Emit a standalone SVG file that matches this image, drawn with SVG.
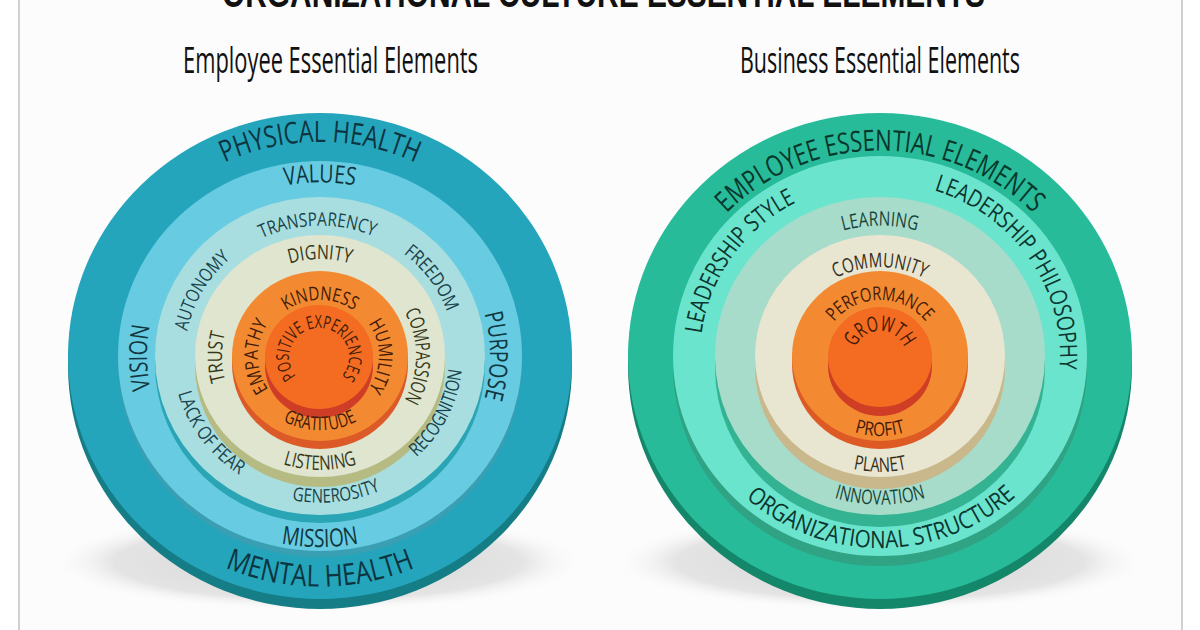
<svg xmlns="http://www.w3.org/2000/svg" width="1200" height="630" viewBox="0 0 1200 630">
<style>
.t{font-family:"Open Sans","Liberation Sans",sans-serif;}
.title{font-family:"Liberation Sans",sans-serif;font-weight:bold;fill:#111;}
.sub{font-family:"Open Sans","Liberation Sans",sans-serif;fill:#111;}
.c1{fill:#0c3540;} .c2{fill:#10363f;} .c3{fill:#1a434b;} .c4{fill:#36381a;} .c5{fill:#421a06;}
.g1{fill:#08372b;} .g2{fill:#0b362e;} .g3{fill:#1a453b;} .g4{fill:#352e22;}
</style>
<defs>
<radialGradient id="shadow" cx="0.5" cy="0.5" r="0.5">
<stop offset="0" stop-color="#d4d4d4"/>
<stop offset="0.75" stop-color="#e4e4e4"/>
<stop offset="1" stop-color="#ffffff" stop-opacity="0"/>
</radialGradient>
<path id="pPhys" d="M320,570.2 A222,214.2 0 1 1 320,141.8 A222,214.2 0 1 1 320,570.2"/>
<path id="pMent" d="M320,125.4 A239,230.6 0 1 0 320,586.6 A239,230.6 0 1 0 320,125.4"/>
<path id="pVal" d="M320,529.7 A180,173.7 0 1 1 320,182.3 A180,173.7 0 1 1 320,529.7"/>
<path id="pMis" d="M320,164.9 A198,191.1 0 1 0 320,547.1 A198,191.1 0 1 0 320,164.9"/>
<path id="pVis" d="M320,523 A173,167 0 1 1 320,189 A173,167 0 1 1 320,523"/>
<path id="pPur" d="M320,520 A170,164 0 1 1 320,192 A170,164 0 1 1 320,520"/>
<path id="pL3" d="M320,486.3 A135,130.3 0 1 1 320,225.7 A135,130.3 0 1 1 320,486.3"/>
<path id="pRec" d="M320,218.5 A142.5,137.5 0 1 0 320,493.5 A142.5,137.5 0 1 0 320,218.5"/>
<path id="pGen" d="M320,209.3 A152,146.7 0 1 0 320,502.7 A152,146.7 0 1 0 320,209.3"/>
<path id="pLack" d="M320,214.1 A147,141.9 0 1 0 320,497.9 A147,141.9 0 1 0 320,214.1"/>
<path id="pDig" d="M320,453 A100.5,97 0 1 1 320,259 A100.5,97 0 1 1 320,453"/>
<path id="pTru" d="M320,450.6 A98,94.6 0 1 1 320,261.4 A98,94.6 0 1 1 320,450.6"/>
<path id="pCom" d="M320,448.6 A96,92.6 0 1 1 320,263.4 A96,92.6 0 1 1 320,448.6"/>
<path id="pLis" d="M320,242.1 A118,113.9 0 1 0 320,469.9 A118,113.9 0 1 0 320,242.1"/>
<path id="pKin" d="M320,412 A58,56 0 1 1 320,300 A58,56 0 1 1 320,412"/>
<path id="pEmp" d="M320,415.8 A62,59.8 0 1 1 320,296.2 A62,59.8 0 1 1 320,415.8"/>
<path id="pHum" d="M320,412.9 A59,56.9 0 1 1 320,299.1 A59,56.9 0 1 1 320,412.9"/>
<path id="pGra" d="M320,281.7 A77,74.3 0 1 0 320,430.3 A77,74.3 0 1 0 320,281.7"/>
<path id="pPos" d="M319,386 A30,29 0 1 1 319,328 A30,29 0 1 1 319,386"/>
<path id="pEmpl" d="M880,561.5 A213,205.5 0 1 1 880,150.5 A213,205.5 0 1 1 880,561.5"/>
<path id="pLead" d="M880,529.7 A180,173.7 0 1 1 880,182.3 A180,173.7 0 1 1 880,529.7"/>
<path id="pOrg" d="M880,164 A199,192 0 1 0 880,548 A199,192 0 1 0 880,164"/>
<path id="pLea" d="M880,486.3 A135,130.3 0 1 1 880,225.7 A135,130.3 0 1 1 880,486.3"/>
<path id="pInn" d="M880,207.4 A154,148.6 0 1 0 880,504.6 A154,148.6 0 1 0 880,207.4"/>
<path id="pCmu" d="M880,444.8 A92,88.8 0 1 1 880,267.2 A92,88.8 0 1 1 880,444.8"/>
<path id="pPla" d="M880,240.2 A120,115.8 0 1 0 880,471.8 A120,115.8 0 1 0 880,240.2"/>
<path id="pPer" d="M880,412 A58,56 0 1 1 880,300 A58,56 0 1 1 880,412"/>
<path id="pPro" d="M880,275.9 A83,80.1 0 1 0 880,436.1 A83,80.1 0 1 0 880,275.9"/>
<path id="pGro" d="M880,381.1 A26,25.1 0 1 1 880,330.9 A26,25.1 0 1 1 880,381.1"/>
</defs>

<rect x="0" y="0" width="1200" height="630" fill="#ffffff"/>
<rect x="19" y="0" width="1163" height="630" fill="#fcfcfc"/>
<line x1="19" y1="0" x2="19" y2="630" stroke="#d0d0d0" stroke-width="2"/>
<line x1="1182" y1="0" x2="1182" y2="630" stroke="#d0d0d0" stroke-width="2"/>

<g id="title">
<text class="title" x="222" y="7" font-size="40" textLength="763" lengthAdjust="spacingAndGlyphs">ORGANIZATIONAL CULTURE ESSENTIAL ELEMENTS</text>
<text class="sub" x="183" y="73" font-size="37" textLength="295" lengthAdjust="spacingAndGlyphs">Employee Essential Elements</text>
<text class="sub" x="740" y="73" font-size="37" textLength="280" lengthAdjust="spacingAndGlyphs">Business Essential Elements</text>
</g>

<g id="employee-diagram">
<ellipse cx="318" cy="562" rx="272" ry="50" fill="url(#shadow)"/>
<g id="l-physical">
<ellipse cx="320" cy="366" rx="252" ry="243" fill="#157d86"/>
<ellipse cx="320" cy="356" rx="252" ry="243" fill="#25a5bc"/>
</g>
<g id="l-values">
<ellipse cx="320" cy="362" rx="202" ry="195" fill="#3a9fb2"/>
<ellipse cx="320" cy="356" rx="202" ry="195" fill="#67cbe1"/>
</g>
<g id="l-transparency">
<ellipse cx="320" cy="364" rx="165" ry="159" fill="#2aa5b5"/>
<ellipse cx="320" cy="356" rx="165" ry="159" fill="#a9dee0"/>
</g>
<g id="l-dignity">
<ellipse cx="320" cy="366" rx="125" ry="121" fill="#b6bb84"/>
<ellipse cx="320" cy="356" rx="125" ry="121" fill="#dfe5cf"/>
</g>
<g id="l-kindness">
<ellipse cx="320" cy="364" rx="88" ry="85" fill="#dc5a27"/>
<ellipse cx="320" cy="356" rx="88" ry="85" fill="#f38a31"/>
</g>
<g id="l-positive">
<ellipse cx="319" cy="366" rx="54" ry="52" fill="#cf3d26"/>
<ellipse cx="319" cy="357" rx="54" ry="52" fill="#f46c22"/>
</g>
<g id="l-labels" class="t">
<text class="c1" font-size="30"><textPath href="#pPhys" startOffset="50%" text-anchor="middle" textLength="197" lengthAdjust="spacingAndGlyphs">PHYSICAL HEALTH</textPath></text>
<text class="c1" font-size="30"><textPath href="#pMent" startOffset="50%" text-anchor="middle" textLength="195" lengthAdjust="spacingAndGlyphs">MENTAL HEALTH</textPath></text>
<text class="c2" font-size="25"><textPath href="#pVal" startOffset="50%" text-anchor="middle" textLength="70" lengthAdjust="spacingAndGlyphs">VALUES</textPath></text>
<text class="c2" font-size="25"><textPath href="#pMis" startOffset="50%" text-anchor="middle" textLength="78" lengthAdjust="spacingAndGlyphs">MISSION</textPath></text>
<text class="c2" font-size="25"><textPath href="#pVis" startOffset="24.86%" text-anchor="middle" textLength="64" lengthAdjust="spacingAndGlyphs">VISION</textPath></text>
<text class="c2" font-size="25"><textPath href="#pPur" startOffset="75%" text-anchor="middle" textLength="86" lengthAdjust="spacingAndGlyphs">PURPOSE</textPath></text>
<text class="c3" font-size="19"><textPath href="#pL3" startOffset="49.7%" text-anchor="middle" textLength="115" lengthAdjust="spacingAndGlyphs">TRANSPARENCY</textPath></text>
<text class="c3" font-size="19"><textPath href="#pL3" startOffset="33.14%" text-anchor="middle" textLength="86" lengthAdjust="spacingAndGlyphs">AUTONOMY</textPath></text>
<text class="c3" font-size="19"><textPath href="#pL3" startOffset="65.17%" text-anchor="middle" textLength="74" lengthAdjust="spacingAndGlyphs">FREEDOM</textPath></text>
<text class="c3" font-size="19"><textPath href="#pRec" startOffset="67.67%" text-anchor="middle" textLength="100" lengthAdjust="spacingAndGlyphs">RECOGNITION</textPath></text>
<text class="c3" font-size="19"><textPath href="#pGen" startOffset="51.8%" text-anchor="middle" textLength="90" lengthAdjust="spacingAndGlyphs">GENEROSITY</textPath></text>
<text class="c3" font-size="19"><textPath href="#pLack" startOffset="34.9%" text-anchor="middle" textLength="104" lengthAdjust="spacingAndGlyphs">LACK OF FEAR</textPath></text>
<text class="c4" font-size="20"><textPath href="#pDig" startOffset="50%" text-anchor="middle" textLength="62" lengthAdjust="spacingAndGlyphs">DIGNITY</textPath></text>
<text class="c4" font-size="20"><textPath href="#pTru" startOffset="24.86%" text-anchor="middle" textLength="49" lengthAdjust="spacingAndGlyphs">TRUST</textPath></text>
<text class="c4" font-size="20"><textPath href="#pCom" startOffset="75%" text-anchor="middle" textLength="92" lengthAdjust="spacingAndGlyphs">COMPASSION</textPath></text>
<text class="c4" font-size="20"><textPath href="#pLis" startOffset="50%" text-anchor="middle" textLength="75" lengthAdjust="spacingAndGlyphs">LISTENING</textPath></text>
<text class="c5" font-size="19"><textPath href="#pKin" startOffset="50%" text-anchor="middle" textLength="72" lengthAdjust="spacingAndGlyphs">KINDNESS</textPath></text>
<text class="c5" font-size="19"><textPath href="#pEmp" startOffset="24.86%" text-anchor="middle" textLength="70" lengthAdjust="spacingAndGlyphs">EMPATHY</textPath></text>
<text class="c5" font-size="19"><textPath href="#pHum" startOffset="75%" text-anchor="middle" textLength="70" lengthAdjust="spacingAndGlyphs">HUMILITY</textPath></text>
<text class="c5" font-size="19"><textPath href="#pGra" startOffset="50%" text-anchor="middle" textLength="77" lengthAdjust="spacingAndGlyphs">GRATITUDE</textPath></text>
<text class="c5" font-size="18"><textPath href="#pPos" startOffset="50%" text-anchor="middle" textLength="134" lengthAdjust="spacingAndGlyphs">POSITIVE EXPERIENCES</textPath></text>
</g>
</g>

<g id="business-diagram">
<ellipse cx="880" cy="562" rx="272" ry="50" fill="url(#shadow)"/>
<g id="r-employee">
<ellipse cx="880" cy="366" rx="252" ry="243" fill="#14866a"/>
<ellipse cx="880" cy="356" rx="252" ry="243" fill="#27bb9a"/>
</g>
<g id="r-leadership">
<ellipse cx="880" cy="366" rx="207" ry="200" fill="#2fa383"/>
<ellipse cx="880" cy="356" rx="207" ry="200" fill="#6be4ce"/>
</g>
<g id="r-learning">
<ellipse cx="880" cy="368" rx="165" ry="159" fill="#33b392"/>
<ellipse cx="880" cy="356" rx="165" ry="159" fill="#a7dccb"/>
</g>
<g id="r-community">
<ellipse cx="880" cy="368" rx="125" ry="121" fill="#c8b88b"/>
<ellipse cx="880" cy="356" rx="125" ry="121" fill="#e8e5d0"/>
</g>
<g id="r-performance">
<ellipse cx="880" cy="364" rx="88" ry="85" fill="#dd5a25"/>
<ellipse cx="880" cy="356" rx="88" ry="85" fill="#f38a32"/>
</g>
<g id="r-growth">
<ellipse cx="880" cy="366" rx="52" ry="50" fill="#cf3d25"/>
<ellipse cx="880" cy="357" rx="52" ry="50" fill="#f46b22"/>
</g>
<g id="r-labels" class="t">
<text class="g1" font-size="29"><textPath href="#pEmpl" startOffset="50%" text-anchor="middle" textLength="340" lengthAdjust="spacingAndGlyphs">EMPLOYEE ESSENTIAL ELEMENTS</textPath></text>
<text class="g2" font-size="24"><textPath href="#pLead" startOffset="34.58%" text-anchor="middle" textLength="168" lengthAdjust="spacingAndGlyphs">LEADERSHIP STYLE</textPath></text>
<text class="g2" font-size="24"><textPath href="#pLead" startOffset="65.56%" text-anchor="middle" textLength="236" lengthAdjust="spacingAndGlyphs">LEADERSHIP PHILOSOPHY</textPath></text>
<text class="g2" font-size="24"><textPath href="#pOrg" startOffset="50.1%" text-anchor="middle" textLength="295" lengthAdjust="spacingAndGlyphs">ORGANIZATIONAL STRUCTURE</textPath></text>
<text class="g3" font-size="20"><textPath href="#pLea" startOffset="50%" text-anchor="middle" textLength="75" lengthAdjust="spacingAndGlyphs">LEARNING</textPath></text>
<text class="g3" font-size="20"><textPath href="#pInn" startOffset="50%" text-anchor="middle" textLength="93" lengthAdjust="spacingAndGlyphs">INNOVATION</textPath></text>
<text class="g4" font-size="20"><textPath href="#pCmu" startOffset="50%" text-anchor="middle" textLength="92" lengthAdjust="spacingAndGlyphs">COMMUNITY</textPath></text>
<text class="g4" font-size="20"><textPath href="#pPla" startOffset="50%" text-anchor="middle" textLength="54" lengthAdjust="spacingAndGlyphs">PLANET</textPath></text>
<text class="c5" font-size="19"><textPath href="#pPer" startOffset="50%" text-anchor="middle" textLength="105" lengthAdjust="spacingAndGlyphs">PERFORMANCE</textPath></text>
<text class="c5" font-size="19"><textPath href="#pPro" startOffset="50%" text-anchor="middle" textLength="52" lengthAdjust="spacingAndGlyphs">PROFIT</textPath></text>
<text class="c5" font-size="21"><textPath href="#pGro" startOffset="50%" text-anchor="middle" textLength="62" lengthAdjust="spacingAndGlyphs">GROWTH</textPath></text>
</g>
</g>
</svg>
